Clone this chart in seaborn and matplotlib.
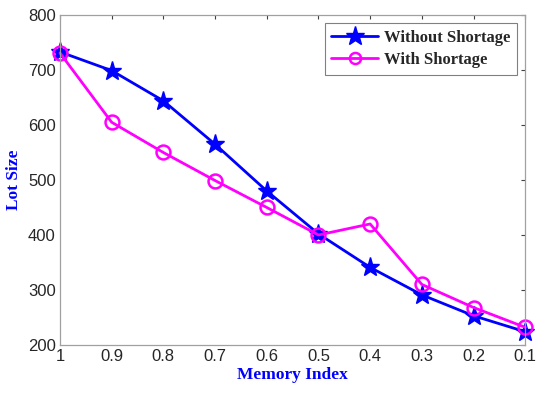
import pandas as pd
import numpy as np
import matplotlib
matplotlib.use("Agg")
import matplotlib.pyplot as plt
import seaborn as sns
from matplotlib.lines import Line2D

# --------------------------------------------------
# DATA
# --------------------------------------------------
memory_index = [1.0, 0.9, 0.8, 0.7, 0.6, 0.5, 0.4, 0.3, 0.2, 0.1]
without_shortage = [733, 699, 644, 565, 480, 402, 341, 291, 253, 224]
with_shortage = [731, 605, 550, 499, 450, 400, 420, 310, 268, 232]
series_names = ["Without Shortage", "With Shortage"]
series_colors = {"Without Shortage": "#0000ff", "With Shortage": "#ff00ff"}

df = pd.DataFrame({
    "Memory Index": memory_index * 2,
    "Lot Size": without_shortage + with_shortage,
    "Series": [series_names[0]] * len(memory_index) + [series_names[1]] * len(memory_index),
})

# --------------------------------------------------
# THEME
# --------------------------------------------------
sns.set_style("white")
plt.rcParams['font.family'] = ['Liberation Sans', 'DejaVu Sans']

fig = plt.figure(figsize=(5.5, 3.96), dpi=100)
ax = fig.add_axes([0.109, 0.129, 0.846, 0.833])

sns.lineplot(data=df, x="Memory Index", y="Lot Size", hue="Series", style="Series",
             markers={series_names[0]: "*", series_names[1]: "o"}, dashes=False,
             palette=series_colors, linewidth=2, markersize=11, ax=ax, legend=False)

# MATLAB-like markers: solid stars, open circles
for line in ax.lines:
    col = line.get_color()
    line.set_markeredgecolor(col)
    line.set_clip_on(False)
    if line.get_marker() == "o":
        line.set_markerfacecolor("none")
        line.set_markeredgewidth(1.8)
        line.set_markersize(10)
    else:
        line.set_markerfacecolor(col)
        line.set_markeredgewidth(1.0)
        line.set_markersize(14)

ax.set_xlim(1.0, 0.1)
ax.set_ylim(200, 800)
ax.set_xticks(memory_index)
ax.set_xticklabels([f"{v:g}" for v in memory_index])
ax.set_yticks([200, 300, 400, 500, 600, 700, 800])

for s in ax.spines.values():
    s.set_color("#a0a0a0")
    s.set_linewidth(0.9)
ax.tick_params(direction="in", length=3, width=0.8, color="#404040",
               labelsize=12, top=True, right=True, pad=3)

ax.set_xlabel("Memory Index", color="#0000ff", fontweight="bold",
              family=["Liberation Serif"], fontsize=12.5, labelpad=2)
ax.set_ylabel("Lot Size", color="#0000ff", fontweight="bold",
              family=["Liberation Serif"], fontsize=12.5, labelpad=4)

# legend
handles = [
    Line2D([], [], color="#0000ff", lw=2, marker="*", markersize=14,
           markeredgecolor="#0000ff"),
    Line2D([], [], color="#ff00ff", lw=2, marker="o", markersize=8,
           markerfacecolor="none", markeredgecolor="#ff00ff", markeredgewidth=1.8),
]
leg = ax.legend(handles, series_names, loc="upper right",
                bbox_to_anchor=(1.0, 1.0), fancybox=False,
                prop={"family": "Liberation Serif", "weight": "bold", "size": 12},
                handlelength=2.8, borderpad=0.4, labelspacing=0.35, handletextpad=0.35)
leg.get_frame().set_edgecolor("#606060")
leg.get_frame().set_linewidth(0.8)

fig.savefig("out.png", dpi=100)
